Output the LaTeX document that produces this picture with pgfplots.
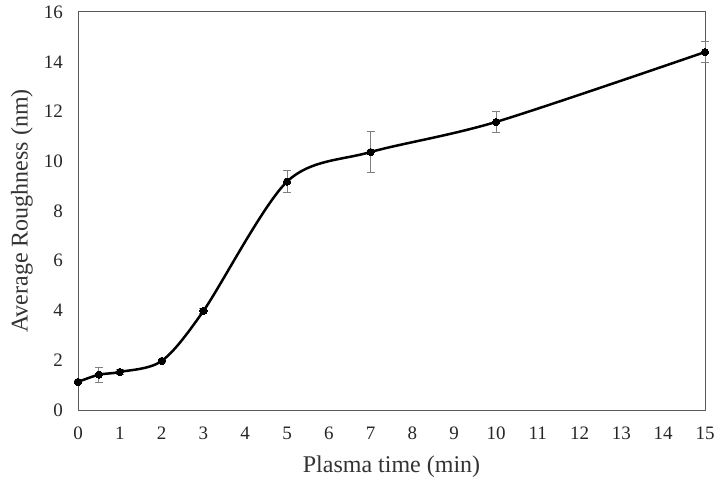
\documentclass[border=0pt]{standalone}
\usepackage{fontspec}
\setmainfont{Liberation Serif}
\usepackage{pgfplots}
\pgfplotsset{compat=1.18}
\begin{document}
\begin{tikzpicture}[x=1pt,y=1pt]
\useasboundingbox (0,0) rectangle (715,485);
\begin{axis}[
  at={(78pt,75pt)}, anchor=south west,
  scale only axis, width=627pt, height=398pt,
  xmin=0, xmax=15, ymin=0, ymax=16,
  xtick={0,1,...,15}, ytick={0,2,...,16},
  major tick length=0pt,
  axis line style={draw=black!65, line width=1pt},
  /pgf/number format/assume math mode=true,
  xticklabel={\pgfmathprintnumber{\tick}},
  yticklabel={\pgfmathprintnumber{\tick}},
  tick label style={font=\fontsize{19}{21}\selectfont, text=black!85, inner sep=0pt},
  xticklabel style={anchor=center, yshift=-23pt},
  yticklabel style={anchor=east, xshift=-15pt},
  xlabel={Plasma time (min)},
  ylabel={Average Roughness (nm)},
  every axis x label/.style={at={(axis description cs:0.5,-0.143)},anchor=center,
    font=\fontsize{24}{26}\selectfont, text=black!80},
  every axis y label/.style={at={(axis description cs:-0.0893,0.5)},rotate=90,anchor=center,
    font=\fontsize{24}{26}\selectfont, text=black!80},
  clip=false,
]
% error bars (grey, drawn underneath)
\addplot[draw=none, mark=none,
  error bars/.cd, y dir=both, y explicit,
  error bar style={draw=black!50, line width=0.9pt},
  error mark options={draw=black!50, line width=0.9pt, mark size=4pt, rotate=90}]
  coordinates {
  (0,1.13) +- (0,0.05)
  (0.5,1.42) +- (0,0.30)
  (1,1.53) +- (0,0.12)
  (2,1.97) +- (0,0.06)
  (3,3.98) +- (0,0.10)
  (5,9.18) +- (0,0.44)
  (7,10.37) +- (0,0.83)
  (10,11.58) +- (0,0.44)
  (15,14.39) +- (0,0.43)
};
% mean roughness, smoothed line
\addplot[black, line width=2.5pt, smooth, tension=0.5,
  mark=*, mark size=3.6pt, mark options={fill=black, line width=0pt}]
  coordinates {
  (0,1.13) (0.5,1.42) (1,1.53) (2,1.97) (3,3.98)
  (5,9.18) (7,10.37) (10,11.58) (15,14.39)
};
\end{axis}
\end{tikzpicture}
\end{document}
